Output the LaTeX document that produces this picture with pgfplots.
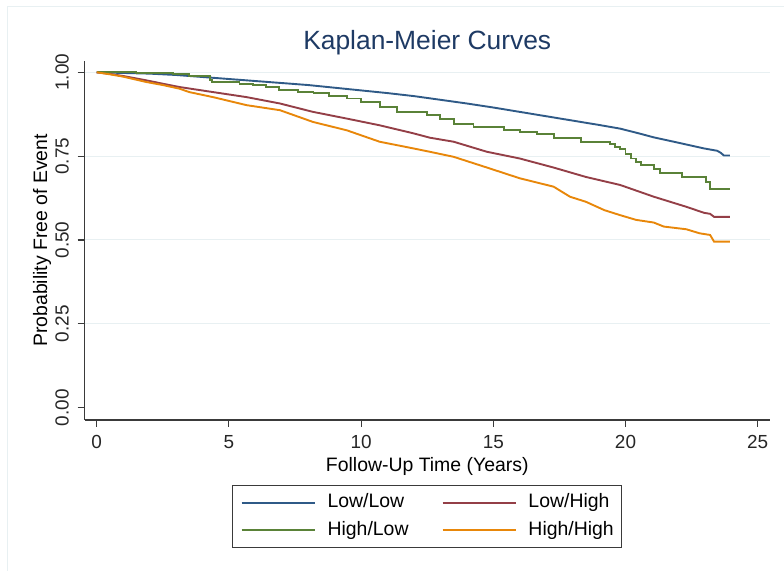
\documentclass[border=0pt]{standalone}
\usepackage{pgfplots}
\pgfplotsset{compat=1.18}
\usepackage{fontspec}
\setmainfont{Liberation Sans}
\definecolor{cLL}{HTML}{2F5A87}
\definecolor{cLH}{HTML}{943F47}
\definecolor{cHL}{HTML}{5A8238}
\definecolor{cHH}{HTML}{E8870A}
\definecolor{gridc}{HTML}{E8F0F2}
\definecolor{titlec}{HTML}{1E3A64}
\definecolor{axc}{HTML}{3A3A3A}
\begin{document}
\begin{tikzpicture}
\useasboundingbox (0,0) rectangle (784bp,571bp);
\draw[gridc, line width=0.8bp] (7bp,0bp) -- (7bp,565bp) -- (784bp,565bp);
\begin{axis}[
  at={(84.5bp,151bp)}, anchor=south west,
  scale only axis, width=685.5bp, height=359.3bp,
  xmin=-0.461, xmax=25.465, ymin=-0.0367, ymax=1.0346,
  axis x line=bottom, axis y line=left,
  axis line style={-, line width=1.1bp, axc},
  tick align=outside, major tick length=7bp,
  tick style={line width=1.1bp, axc},
  xtick={0,5,10,15,20,25},
  ytick={0.25,0.5,0.75,1},
  extra y ticks={0}, extra y tick style={grid=none},
  ymajorgrids, major grid style={gridc, line width=1bp},
  /pgf/number format/assume math mode=true,
  yticklabel style={/pgf/number format/.cd, fixed, fixed zerofill, precision=2, /tikz/.cd, rotate=90, anchor=south, inner sep=8.6bp},
  extra y tick labels={0.00},
  xticklabel style={anchor=north, inner sep=8bp},
  ticklabel style={font=\fontsize{19}{22}\selectfont, text=black!85},
  title={Kaplan-Meier Curves},
  title style={at={(axis description cs:0.5,1.0135)}, anchor=base, font=\fontsize{26.5}{30}\selectfont, text=titlec, inner sep=0pt},
  xlabel={Follow-Up Time (Years)},
  xlabel style={at={(axis description cs:0.5,-0.1447)}, anchor=base, font=\fontsize{19.5}{22}\selectfont, inner sep=0pt},
  ylabel={Probability Free of Event},
  ylabel style={at={(axis description cs:-0.0547,0.5)}, anchor=base, rotate=0, font=\fontsize{19.5}{22}\selectfont, inner sep=0pt},
  legend columns=2,
  legend cell align=left,
  legend image code/.code={\draw[#1, line width=1.9bp] (0bp,0bp) -- (73bp,0bp);},
  legend style={at={(axis description cs:0.5,-0.1809)}, anchor=north,
    draw=axc, line width=0.8bp, inner xsep=8bp, inner ysep=8bp,
    font=\fontsize{19.5}{22}\selectfont,
    nodes={inner sep=0pt, text height=14bp, text depth=4.5bp},
    /tikz/every odd column/.style={column sep=12bp},
    /tikz/every even column/.style={column sep=33bp},
    row sep=9.2bp},
]
\addplot[cLL, line width=1.9bp] coordinates {
(0,1.000) (1,0.998) (2,0.996) (3,0.992) (4,0.986) (5,0.980) (6,0.974) (7,0.968)
(8,0.962) (9,0.954) (10,0.946) (11,0.938) (12,0.929) (13,0.918) (14,0.907)
(15,0.895) (16,0.882) (17,0.869) (18,0.856) (19,0.843) (19.8,0.832) (20.5,0.818)
(21.07,0.806) (22,0.790) (22.97,0.773) (23.47,0.766) (23.6,0.760) (23.72,0.752) (23.95,0.752)};
\addlegendentry{Low/Low}
\addplot[cLH, line width=1.9bp] coordinates {
(0,1.000) (0.5,0.995) (1,0.989) (1.88,0.976) (2.5,0.966) (3.14,0.956) (4.4,0.941)
(5.67,0.926) (6.93,0.907) (8.18,0.882) (9.46,0.862) (10.7,0.842) (11.98,0.818)
(12.6,0.805) (13.5,0.793) (14.76,0.763) (16.0,0.743) (17.28,0.716) (18.5,0.688)
(19.8,0.664) (21.07,0.629) (22.3,0.599) (22.97,0.581) (23.2,0.578) (23.35,0.569) (23.95,0.569)};
\addlegendentry{Low/High}
\addplot[cHL, line width=1.9bp, const plot] coordinates {
(0,1.000) (1.5,0.998) (2.9,0.994) (3.5,0.990) (4.3,0.978) (4.35,0.971) (5.4,0.966)
(5.9,0.961) (6.4,0.956) (6.9,0.946) (7.6,0.942) (8.2,0.937) (8.8,0.930) (9.46,0.922)
(10.0,0.912) (10.7,0.897) (11.35,0.882) (12.5,0.872) (13.0,0.862) (13.5,0.847)
(14.25,0.837) (15.4,0.827) (16.0,0.823) (16.65,0.815) (17.3,0.803) (18.3,0.793)
(19.4,0.786) (19.6,0.778) (19.8,0.770) (20.0,0.757) (20.2,0.743) (20.4,0.732)
(20.6,0.723) (21.07,0.713) (21.3,0.699) (22.15,0.688) (23.03,0.673) (23.2,0.652) (23.95,0.652)};
\addlegendentry{High/Low}
\addplot[cHH, line width=1.9bp] coordinates {
(0,1.000) (0.5,0.994) (1,0.987) (1.88,0.971) (2.5,0.962) (3.14,0.951) (3.5,0.941)
(4.4,0.926) (5.67,0.902) (6.93,0.887) (8.18,0.852) (9.46,0.827) (10.7,0.793)
(11.98,0.773) (12.6,0.763) (13.5,0.748) (14.76,0.716) (16.0,0.684) (17.28,0.659)
(17.9,0.629) (18.5,0.614) (19.2,0.589) (19.8,0.574) (20.4,0.560) (21.07,0.552)
(21.45,0.540) (22.3,0.532) (22.8,0.520) (23.2,0.515) (23.35,0.495) (23.95,0.495)};
\addlegendentry{High/High}
\end{axis}
\end{tikzpicture}
\end{document}
